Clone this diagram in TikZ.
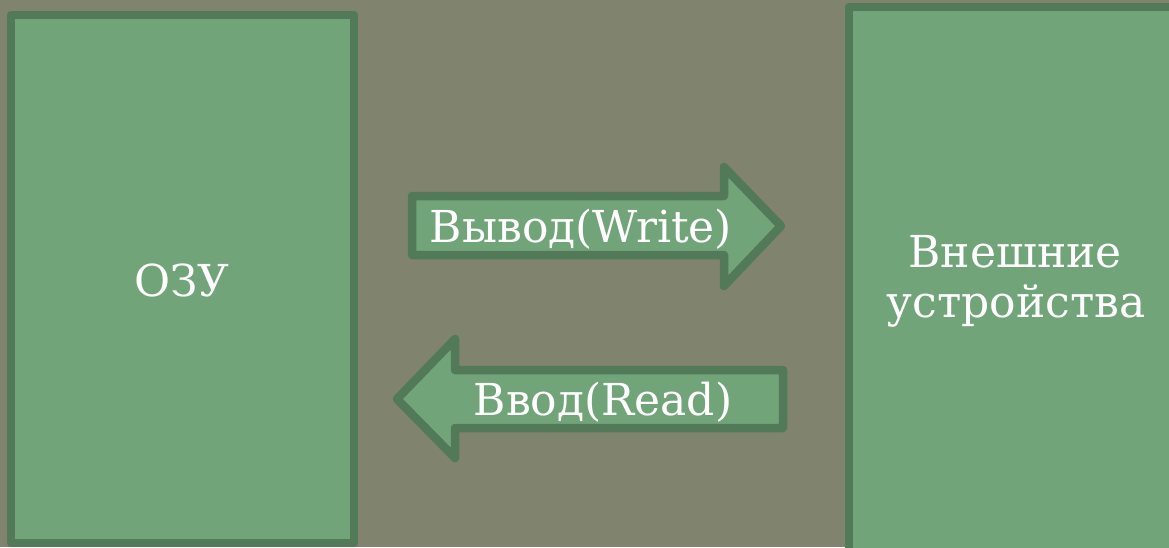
\documentclass[tikz,border=0pt]{standalone}
\usepackage{fontspec}
\setmainfont{DejaVu Serif}
\definecolor{bgc}{HTML}{80846F}
\definecolor{boxfill}{HTML}{72A47A}
\definecolor{boxline}{HTML}{527958}
\begin{document}
\begin{tikzpicture}[x=1pt,y=-1pt,
  shapebox/.style={fill=boxfill,draw=boxline,line width=8.5pt,line join=round},
  lbl/.style={text=white,font=\fontsize{44}{54}\selectfont,inner sep=0pt,anchor=base}]
\useasboundingbox (0,0) rectangle (1169,547);
\fill[bgc] (0,0) rectangle (1169,547);
\begin{scope}
\clip (0,0) rectangle (1169,547);
% left box
\draw[shapebox] (11,15) rectangle (354,543);
% right box
\draw[shapebox] (849,7) rectangle (1200,580);
\end{scope}
% write arrow
\draw[shapebox] (412,196) -- (724,196) -- (724,167) -- (781,226) -- (724,286) -- (724,255) -- (412,255) -- cycle;
% read arrow
\draw[shapebox] (783,370) -- (455,370) -- (455,339) -- (397,399) -- (455,458) -- (455,428) -- (783,428) -- cycle;
\node[lbl] (ozu) at (182,296) {ОЗУ};
\node[lbl] (ext1) at (1015,267) {Внешние};
\node[lbl] (ext2) at (1016,317) {устройства};
\node[lbl] (write) at (581,242) {Вывод(Write)};
\node[lbl] (read) at (603,415) {Ввод(Read)};
\end{tikzpicture}
\end{document}
